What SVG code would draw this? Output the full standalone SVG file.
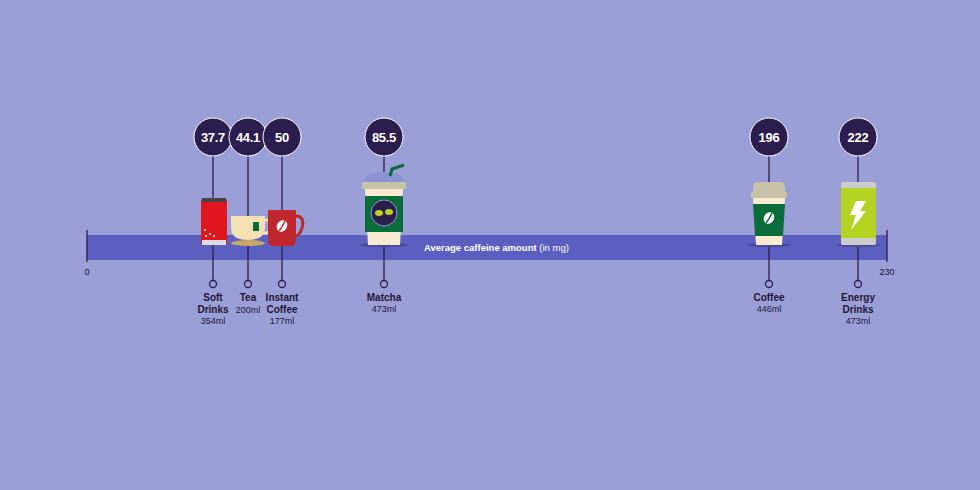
<svg xmlns="http://www.w3.org/2000/svg" width="980" height="490" viewBox="0 0 980 490">
<style>
.t{font-family:"Liberation Sans",Arial,sans-serif;font-weight:bold;fill:#fff;font-size:13px;text-anchor:middle;letter-spacing:-0.3px}
.lb{font-family:"Liberation Sans",Arial,sans-serif;font-weight:bold;fill:#1e1633;font-size:10px;text-anchor:middle}
.sm{font-family:"Liberation Sans",Arial,sans-serif;fill:#1e1633;font-size:9px;text-anchor:middle}
.bub{fill:#2b1d4d;stroke:#fff;stroke-width:1}
.ln{stroke:#2b1d4d;stroke-width:1.3;fill:none}
.dot{fill:#9b9fd8;stroke:#2b1d4d;stroke-width:1.3}
</style>
<rect width="980" height="490" fill="#9b9fd8"/>
<g id="axis">
<rect x="87" y="235" width="800" height="25" fill="#5b5fbf"/>
<line x1="87" y1="230" x2="87" y2="262" class="ln"/>
<line x1="887" y1="230" x2="887" y2="262" class="ln"/>
<text x="87" y="275" class="sm">0</text>
<text x="887" y="275" class="sm">230</text>
<text x="424" y="251" font-family="Liberation Sans,Arial,sans-serif" font-size="9.5" fill="#fff"><tspan font-weight="bold">Average caffeine amount</tspan> (in mg)</text>
</g>
<g id="connectors">
<line x1="213" y1="156" x2="213" y2="280" class="ln"/>
<line x1="248" y1="156" x2="248" y2="280" class="ln"/>
<line x1="282" y1="156" x2="282" y2="280" class="ln"/>
<line x1="384" y1="156" x2="384" y2="280" class="ln"/>
<line x1="769" y1="156" x2="769" y2="280" class="ln"/>
<line x1="858" y1="156" x2="858" y2="280" class="ln"/>
<circle cx="213" cy="284" r="3.5" class="dot"/>
<circle cx="248" cy="284" r="3.5" class="dot"/>
<circle cx="282" cy="284" r="3.5" class="dot"/>
<circle cx="384" cy="284" r="3.5" class="dot"/>
<circle cx="769" cy="284" r="3.5" class="dot"/>
<circle cx="858" cy="284" r="3.5" class="dot"/>
</g>
<g id="soft">
<rect x="201" y="199" width="26" height="46" rx="2" fill="#e0161f"/>
<rect x="202" y="198" width="24" height="4" fill="#444"/>
<rect x="202" y="240" width="24" height="5" fill="#ddd"/>
<circle cx="205" cy="230" r="1" fill="#fff"/><circle cx="210" cy="234" r="1" fill="#fff"/><circle cx="206" cy="236" r="1" fill="#fff"/><circle cx="214" cy="236" r="1" fill="#fff"/>
<circle cx="213" cy="137" r="19" class="bub"/><text x="213" y="142" class="t">37.7</text>
<text x="213" y="301" class="lb">Soft</text><text x="213" y="313" class="lb">Drinks</text><text x="213" y="324" class="sm">354ml</text>
</g>
<g id="tea">
<ellipse cx="248" cy="243" rx="17" ry="3" fill="#c9a86a"/>
<path d="M231 216 H265 V228 Q265 240 248 240 Q231 240 231 228 Z" fill="#f3e1b3"/>
<path d="M265 220 Q273 220 272 228 Q270 234 263 233" fill="none" stroke="#f3e1b3" stroke-width="3"/>
<rect x="253" y="222" width="6" height="9" fill="#0a6b3b"/>
<circle cx="248" cy="137" r="19" class="bub"/><text x="248" y="142" class="t">44.1</text>
<text x="248" y="301" class="lb">Tea</text><text x="248" y="313" class="sm">200ml</text>
</g>
<g id="instant">
<path d="M296 216 Q305 216 302 228 Q300 236 294 236" fill="none" stroke="#c0262d" stroke-width="3"/>
<path d="M268 210 H296 V240 Q296 246 290 246 H274 Q268 246 268 240 Z" fill="#c0262d"/>
<ellipse cx="282" cy="226" rx="5" ry="6" fill="#fff" transform="rotate(30 282 226)"/>
<path d="M279 231 Q283 226 285 221" stroke="#c0262d" stroke-width="1.5" fill="none"/>
<circle cx="282" cy="137" r="19" class="bub"/><text x="282" y="142" class="t">50</text>
<text x="282" y="301" class="lb">Instant</text><text x="282" y="313" class="lb">Coffee</text><text x="282" y="324" class="sm">177ml</text>
</g>
<g id="matcha">
<ellipse cx="384" cy="245" rx="24" ry="2" fill="#4a4a9a"/>
<path d="M364 182 Q364 172 384 172 Q404 172 404 182 Z" fill="#8c94d4"/>
<path d="M390 176 L392 169 L404 165" stroke="#0a6b3b" stroke-width="3" fill="none"/>
<rect x="362" y="182" width="44" height="7" rx="2" fill="#c8c2a8"/>
<path d="M365 189 H403 L400 245 H368 Z" fill="#f7ecd0"/>
<rect x="365" y="196" width="38" height="36" fill="#0a6b3b"/>
<circle cx="384" cy="213" r="13" fill="#2b1d4d" stroke="#8c94d4"/>
<ellipse cx="379" cy="213" rx="4" ry="3" fill="#b5d322"/><ellipse cx="389" cy="212" rx="4" ry="3" fill="#b5d322"/>
<circle cx="384" cy="137" r="19" class="bub"/><text x="384" y="142" class="t">85.5</text>
<text x="384" y="301" class="lb">Matcha</text><text x="384" y="312" class="sm">473ml</text>
</g>
<g id="coffee">
<ellipse cx="769" cy="245" rx="22" ry="2" fill="#4a4a9a"/>
<path d="M753 192 V187 Q753 182 758 182 H780 Q785 182 785 187 V192 Z" fill="#c8c2a8"/>
<rect x="751" y="192" width="36" height="6" fill="#c8c2a8"/>
<path d="M753 198 H785 L782 245 H756 Z" fill="#f7ecd0"/>
<path d="M753 204 H785 L783 236 H755 Z" fill="#0a6b3b"/>
<ellipse cx="769" cy="218" rx="5" ry="6" fill="#fff" transform="rotate(30 769 218)"/>
<path d="M766 223 Q770 218 772 213" stroke="#0a6b3b" stroke-width="1.5" fill="none"/>
<circle cx="769" cy="137" r="19" class="bub"/><text x="769" y="142" class="t">196</text>
<text x="769" y="301" class="lb">Coffee</text><text x="769" y="312" class="sm">446ml</text>
</g>
<g id="energy">
<ellipse cx="858" cy="245" rx="22" ry="2" fill="#4a4a9a"/>
<rect x="841" y="182" width="35" height="63" rx="3" fill="#b5d322"/>
<rect x="841" y="182" width="35" height="6" rx="2" fill="#ccc"/>
<rect x="841" y="238" width="35" height="7" rx="2" fill="#ccc"/>
<path d="M856 201 H866 L860 211 H866 L851 230 L856 215 H850 Z" fill="#fff"/>
<circle cx="858" cy="137" r="19" class="bub"/><text x="858" y="142" class="t">222</text>
<text x="858" y="301" class="lb">Energy</text><text x="858" y="313" class="lb">Drinks</text><text x="858" y="324" class="sm">473ml</text>
</g>
</svg>
